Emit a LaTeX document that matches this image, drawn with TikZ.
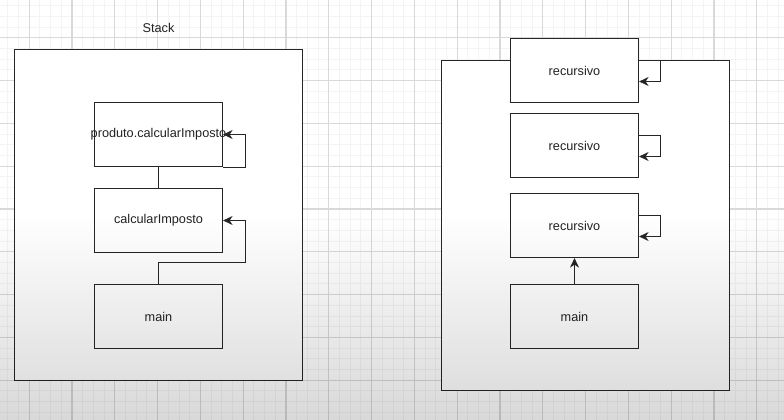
\documentclass[tikz,border=0pt]{standalone}
\usepackage{fontspec}
\setmainfont{Liberation Sans}
\usetikzlibrary{arrows.meta,calc}
\definecolor{majorgrid}{HTML}{D9D9D9}
\definecolor{minorgrid}{HTML}{F4F4F4}
\definecolor{txt}{HTML}{222222}
\tikzset{
  box/.style={draw=black!85, line width=1.2pt, fill=white, minimum width=128pt, minimum height=64pt, inner sep=0pt, text=txt, font=\fontsize{12.7}{15}\selectfont},
  frame/.style={draw=black!85, line width=1.2pt, fill=white, inner sep=0pt},
  conn/.style={draw=black!85, line width=1.2pt},
  arr/.style={conn, -{Stealth[length=9.5pt, width=9pt, inset=3pt]}},
  lbl/.style={text=txt, font=\fontsize{12.7}{15}\selectfont, inner sep=0pt}
}
\begin{document}
\begin{tikzpicture}[x=1pt, y=-1pt]
\useasboundingbox (0,0) rectangle (784,420);
\fill[white] (0,0) rectangle (784,420);
% grid
\foreach \i in {0,...,73} {
  \draw[minorgrid, line width=0.7pt] ({7.7+10.7*\i},0) -- ({7.7+10.7*\i},420);
}
\foreach \i in {0,...,39} {
  \draw[minorgrid, line width=0.7pt] (0,{5.6+10.7*\i}) -- (784,{5.6+10.7*\i});
}
\foreach \i in {0,...,17} {
  \draw[majorgrid, line width=1.2pt] ({29.1+42.8*\i},0) -- ({29.1+42.8*\i},420);
}
\foreach \i in {0,...,8} {
  \draw[majorgrid, line width=1.2pt] (0,{37.7+42.8*\i}) -- (784,{37.7+42.8*\i});
}

% left stack
\node[lbl] (stack) at (158.5,28) {Stack};
\node[frame, minimum width=288pt, minimum height=331pt] (outerL) at (158.5,215) {};
\node[box] (b1) at (158.5,134.5) {\makebox[0pt][c]{produto.calcularImposto}};
\node[box] (b2) at (158.5,220.5) {calcularImposto};
\node[box] (mL) at (158.5,316.5) {main};
\draw[conn] (b1.south) -- (b2.north);
\coordinate (l1) at ($(b1.south east)+(22,0)$);
\draw[arr] (b1.south east) -- (l1) |- (b1.east);
\coordinate (l2) at ($(b2.east)+(22,42)$);
\draw[arr] (mL.north) |- (l2) |- (b2.east);

% right stack
\node[frame, minimum width=288pt, minimum height=330pt] (outerR) at (585.5,225.5) {};
\node[box] (r1) at (574.5,70.5) {recursivo};
\node[box] (r2) at (574.5,145.5) {recursivo};
\node[box] (r3) at (574.5,225.5) {recursivo};
\node[box] (mR) at (574.5,316.5) {main};
\foreach \n in {r1,r2,r3} {
  \coordinate (\n s) at ($(\n.east)+(0,-10)$);
  \coordinate (\n c) at ($(\n.east)+(21,-10)$);
  \coordinate (\n e) at ($(\n.east)+(0,11)$);
  \draw[arr] (\n s) -- (\n c) |- (\n e);
}
\draw[arr] (mR.north) -- (r3.south);

% bottom gradient overlay
\begin{scope}[blend mode=multiply]
\shade[top color=white, bottom color=black!15] (0,215) rectangle (784,420);
\end{scope}
\end{tikzpicture}
\end{document}
